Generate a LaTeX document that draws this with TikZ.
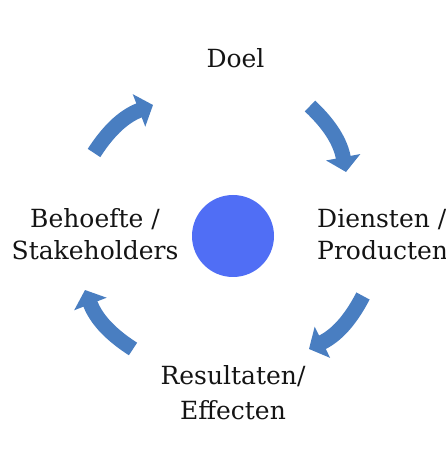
\documentclass[tikz,border=0pt]{standalone}
\usepackage{fontspec}
\setmainfont{DejaVu Serif}
\usetikzlibrary{arrows.meta}
\definecolor{arrowblue}{RGB}{73,126,193}
\definecolor{dotblue}{RGB}{80,110,245}
\definecolor{txt}{RGB}{20,20,20}
\begin{document}
\begin{tikzpicture}[x=1pt,y=1pt,
  lbl/.style={text=txt,inner sep=0pt,font=\fontsize{25}{32}\selectfont},
  cyc/.style={draw=arrowblue,line width=15pt,-{Triangle[length=15pt,width=34pt]}}]
\useasboundingbox (0,0) rectangle (445,452);
\node[lbl,anchor=base] (doel) at (235.5,384) {Doel};
\node[lbl,anchor=base,align=center] (behoefte) at (95,192) {Behoefte /\\Stakeholders};
\node[lbl,anchor=base west,align=left] (diensten) at (317,192) {Diensten /\\Producten};
\node[lbl,anchor=base,align=center] (result) at (233,32) {Resultaten/\\[3pt]Effecten};
\node[circle,fill=dotblue,minimum size=82pt,inner sep=0pt] (dot) at (233,216) {};
\coordinate (a1s) at (94,299);  \coordinate (a1e) at (153,347);
\coordinate (a2s) at (310,346); \coordinate (a2e) at (346,280);
\coordinate (a3s) at (363,156); \coordinate (a3e) at (309,103);
\coordinate (a4s) at (133,103); \coordinate (a4e) at (85,162);
\draw[cyc] (a1s) to[bend left=18] (a1e);
\draw[cyc] (a2s) to[bend left=18] (a2e);
\draw[cyc] (a3s) to[bend left=18] (a3e);
\draw[cyc] (a4s) to[bend left=18] (a4e);
\end{tikzpicture}
\end{document}
